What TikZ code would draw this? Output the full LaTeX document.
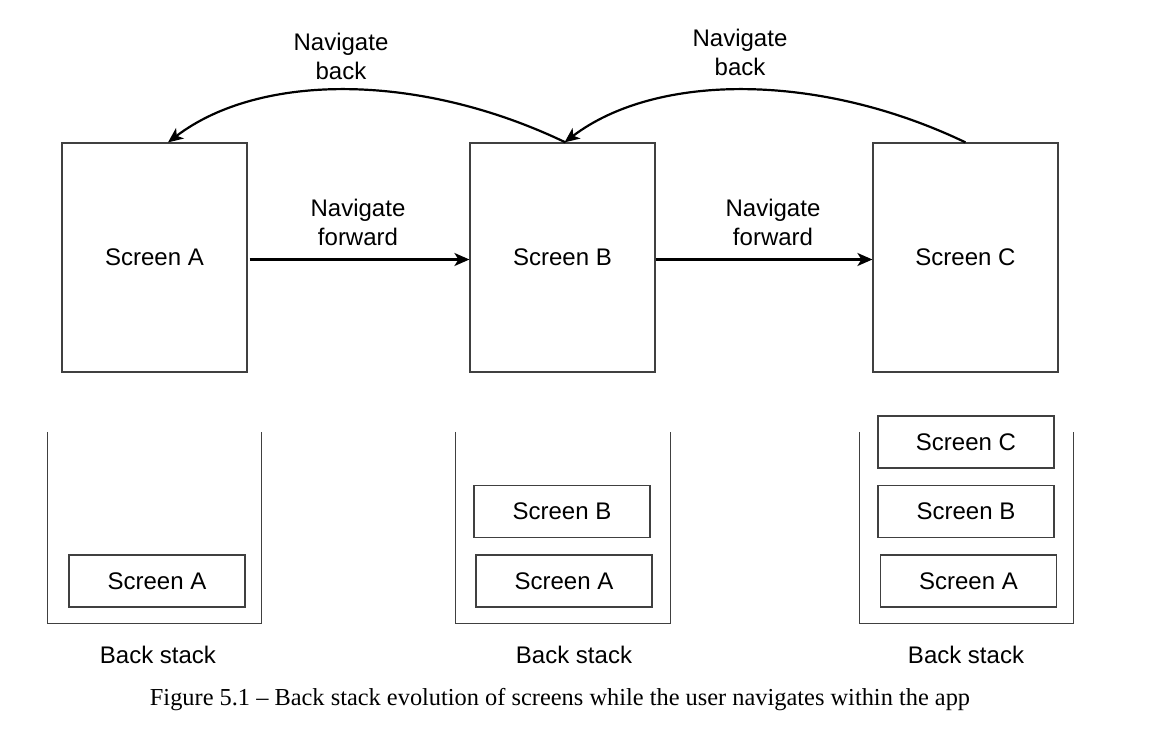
\documentclass[tikz,border=0pt]{standalone}
\usepackage{fontspec}
\setmainfont{Liberation Sans}
\newfontfamily\capfont[Ligatures=TeX]{Liberation Serif}
\usetikzlibrary{arrows.meta}
\newcommand{\lblfont}{\fontsize{24}{29}\selectfont}
\tikzset{
  screenbox/.style={draw=black!75, line width=1.2pt, minimum width=185pt, minimum height=229pt, inner sep=0pt, font=\lblfont},
  itembox/.style={draw=black!75, line width=1.2pt, minimum width=176pt, minimum height=52pt, inner sep=0pt, font=\lblfont},
  stackarea/.style={draw=none, minimum width=213pt, minimum height=191pt, inner sep=0pt},
  stackline/.style={draw=black!75, line width=1.2pt},
  lbl/.style={font=\lblfont, align=center, inner sep=0pt},
  arr/.style={line width=2.2pt, -{Stealth[length=15pt,width=13pt,inset=4pt]}}
}
\begin{document}
\begin{tikzpicture}[x=1pt,y=-1pt]
\useasboundingbox (0,0) rectangle (1156,743);
\fill[white] (0,0) rectangle (1156,743);

% screens
\node[screenbox] (A) at (154.5,257.5) {Screen A};
\node[screenbox] (B) at (562.5,257.5) {Screen B};
\node[screenbox] (C) at (965.5,257.5) {Screen C};

% forward arrows
\draw[arr, shorten <=2pt] ([yshift=-2pt]A.east) -- ([yshift=-2pt]B.west);
\draw[arr] ([yshift=-2pt]B.east) -- ([yshift=-2pt]C.west);
\node[lbl] (f1) at (358,222) {Navigate\\forward};
\node[lbl] (f2) at (773,222) {Navigate\\forward};

% back arrows
\coordinate (b1s) at ([xshift=3pt]B.north);
\coordinate (b1e) at ([xshift=13.5pt]A.north);
\draw[arr] (b1s) .. controls ([shift={(-146,-70)}]b1s) and ([shift={(92,-70)}]b1e) .. (b1e);
\coordinate (b2s) at (C.north);
\coordinate (b2e) at ([xshift=2pt]B.north);
\draw[arr] (b2s) .. controls ([shift={(-146,-70)}]b2s) and ([shift={(92,-70)}]b2e) .. (b2e);
\node[lbl] (k1) at (341,56) {Navigate\\back};
\node[lbl] (k2) at (740,52) {Navigate\\back};

% back stacks
\node[stackarea] (s1) at (154.5,527.5) {};
\node[stackarea, minimum width=214pt] (s2) at (563,527.5) {};
\node[stackarea] (s3) at (966.5,527.5) {};
\foreach \s in {s1,s2,s3}{
  \draw[stackline] (\s.north west) -- (\s.south west) -- (\s.south east) -- (\s.north east);
}

\node[itembox] (s1a) at (157,581) {Screen A};
\node[itembox] (s2b) at (562,511.5) {Screen B};
\node[itembox] (s2a) at (564,581) {Screen A};
\node[itembox] (s3c) at (966,442) {Screen C};
\node[itembox] (s3b) at (966,511.5) {Screen B};
\node[itembox] (s3a) at (968.5,581) {Screen A};

\node[lbl] (l1) at (158,655) {Back stack};
\node[lbl] (l2) at (574,655) {Back stack};
\node[lbl] (l3) at (966,655) {Back stack};

% caption
\node[inner sep=0pt] (cap) at (560,700) {\resizebox{820pt}{!}{\capfont Figure 5.1 – Back stack evolution of screens while the user navigates within the app}};
\end{tikzpicture}
\end{document}
